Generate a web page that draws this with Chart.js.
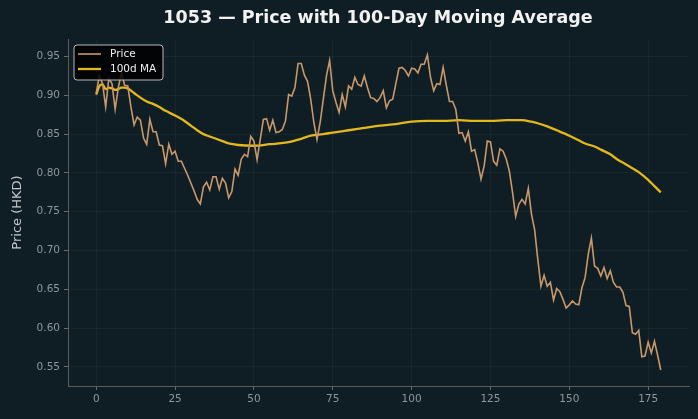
<!DOCTYPE html>
<html><head><meta charset="utf-8">
<script src="https://cdn.jsdelivr.net/npm/chart.js@4"></script>
<style>html,body{margin:0;padding:0;background:#0f1e24;}#wrap{width:698px;height:419px;}</style>
</head><body><div id="wrap"><canvas id="c" width="698" height="419"></canvas></div>
<script>
const titleText = "1053 — Price with 100-Day Moving Average";
const yTitle = "Price (HKD)";
const seriesNames = ["Price", "100d MA"];
const xTicks = [0, 25, 50, 75, 100, 125, 150, 175];
const yTicks = [0.55, 0.60, 0.65, 0.70, 0.75, 0.80, 0.85, 0.90, 0.95];

const price = [
0.903,0.925,0.915,0.885,0.922,0.915,0.882,0.910,0.929,0.913,
0.912,0.885,0.862,0.872,0.868,0.845,0.837,0.869,0.853,0.853,
0.836,0.835,0.812,0.837,0.824,0.828,0.815,0.815,0.806,0.797,
0.787,0.777,0.766,0.760,0.782,0.788,0.778,0.795,0.795,0.779,
0.793,0.787,0.768,0.776,0.805,0.797,0.818,0.824,0.821,0.847,
0.841,0.817,0.843,0.869,0.870,0.855,0.868,0.852,0.853,0.856,
0.867,0.901,0.899,0.910,0.941,0.941,0.926,0.918,0.895,0.865,
0.843,0.865,0.895,0.925,0.945,0.906,0.891,0.878,0.901,0.885,
0.912,0.908,0.923,0.914,0.912,0.925,0.910,0.897,0.896,0.892,
0.897,0.906,0.884,0.893,0.895,0.915,0.935,0.936,0.932,0.925,
0.935,0.934,0.929,0.940,0.940,0.952,0.923,0.906,0.915,0.914,
0.936,0.913,0.892,0.892,0.882,0.851,0.852,0.841,0.853,0.828,
0.830,0.813,0.792,0.809,0.841,0.840,0.815,0.810,0.831,0.828,
0.818,0.802,0.775,0.744,0.760,0.766,0.760,0.780,0.747,0.727,
0.689,0.654,0.668,0.654,0.659,0.636,0.651,0.647,0.637,0.626,
0.630,0.635,0.631,0.630,0.652,0.665,0.695,0.716,0.680,0.677,
0.667,0.678,0.664,0.674,0.659,0.653,0.653,0.646,0.629,0.628,
0.594,0.592,0.597,0.563,0.564,0.582,0.568,0.583,0.565,0.546
];
const days = price.map((_, i) => i);

const maDays = [0,1,2,3,4,5,6,7,8,9,10,12,14,16,18,20,22,25,28,30,32,34,36,38,40,42,45,50,55,60,65,68,72,75,80,85,90,95,100,105,110,115,120,125,130,135,138,140,143,146,150,153,155,158,160,163,165,168,170,172,175,177,179];
const maValues = [0.901,0.912,0.914,0.908,0.910,0.909,0.907,0.908,0.910,0.910,0.909,0.903,0.897,0.892,0.889,0.885,0.880,0.874,0.867,0.861,0.855,0.850,0.847,0.844,0.841,0.838,0.836,0.835,0.837,0.839,0.844,0.848,0.850,0.852,0.855,0.858,0.861,0.863,0.866,0.867,0.867,0.868,0.867,0.867,0.868,0.868,0.866,0.864,0.860,0.855,0.848,0.842,0.838,0.834,0.830,0.824,0.818,0.811,0.806,0.801,0.791,0.783,0.775];

const BG = '#0f1e24';
const PRICE_COLOR = '#c9986a';
const MA_COLOR = '#e3b81c';

const bgPlugin = {
  id: 'bg',
  beforeDraw(chart) {
    const ctx = chart.ctx;
    ctx.save();
    ctx.fillStyle = BG;
    ctx.fillRect(0, 0, chart.width, chart.height);
    ctx.restore();
  },
  afterDraw(chart) {
    const ctx = chart.ctx;
    ctx.save();
    ctx.fillStyle = '#f2f2f2';
    ctx.font = 'bold 17.5px "DejaVu Sans"';
    ctx.textAlign = 'center';
    ctx.textBaseline = 'middle';
    ctx.fillText(titleText, 378, 18);
    const x0 = 74, y0 = 45, w = 89, h = 35, r = 3;
    ctx.beginPath();
    ctx.moveTo(x0 + r, y0);
    ctx.arcTo(x0 + w, y0, x0 + w, y0 + h, r);
    ctx.arcTo(x0 + w, y0 + h, x0, y0 + h, r);
    ctx.arcTo(x0, y0 + h, x0, y0, r);
    ctx.arcTo(x0, y0, x0 + w, y0, r);
    ctx.closePath();
    ctx.fillStyle = 'rgba(0,0,0,0.85)';
    ctx.fill();
    ctx.strokeStyle = '#b8b8b8';
    ctx.lineWidth = 1;
    ctx.stroke();
    const items = [[PRICE_COLOR, 1.6, 54, seriesNames[0]], [MA_COLOR, 2.3, 69, seriesNames[1]]];
    ctx.font = '10.5px "DejaVu Sans"';
    ctx.textAlign = 'left';
    for (const [col, lw, yy, label] of items) {
      ctx.beginPath();
      ctx.moveTo(78, yy);
      ctx.lineTo(101, yy);
      ctx.strokeStyle = col;
      ctx.lineWidth = lw;
      ctx.stroke();
      ctx.fillStyle = '#eeeeee';
      ctx.fillText(label, 110, yy + 0.5);
    }
    ctx.restore();
  }
};

new Chart(document.getElementById('c'), {
  type: 'line',
  data: {
    datasets: [
      {
        label: seriesNames[0],
        data: days.map((d, i) => ({ x: d, y: price[i] })),
        borderColor: PRICE_COLOR,
        borderWidth: 1.6,
        pointRadius: 0,
        tension: 0,
        fill: false
      },
      {
        label: seriesNames[1],
        data: maDays.map((d, i) => ({ x: d, y: maValues[i] })),
        borderColor: MA_COLOR,
        borderWidth: 2.3,
        pointRadius: 0,
        cubicInterpolationMode: 'monotone',
        fill: false
      }
    ]
  },
  options: {
    responsive: false,
    animation: false,
    devicePixelRatio: 1,
    layout: { padding: { left: 10, right: 9, top: 39, bottom: 0 } },
    plugins: {
      legend: { display: false },
      title: { display: false },
      tooltip: { enabled: false }
    },
    scales: {
      x: {
        type: 'linear',
        min: -8.95,
        max: 187.95,
        afterBuildTicks: s => { s.ticks = xTicks.map(v => ({ value: v })); },
        afterFit: s => { s.height = 33; },
        ticks: {
          color: '#8e979b',
          font: { family: 'DejaVu Sans', size: 10.5 },
          padding: 3,
          maxRotation: 0,
          callback: v => String(v)
        },
        grid: {
          color: 'rgba(255,255,255,0.045)',
          tickColor: '#6a6a6a',
          tickLength: 4,
          drawTicks: true
        },
        border: { color: '#5a5a5a', width: 1 }
      },
      y: {
        type: 'linear',
        min: 0.5254,
        max: 0.9726,
        afterBuildTicks: s => { s.ticks = yTicks.map(v => ({ value: v })); },
        afterFit: s => { s.width = 58; },
        ticks: {
          color: '#8e979b',
          font: { family: 'DejaVu Sans', size: 10.5 },
          padding: 4,
          callback: v => v.toFixed(2)
        },
        grid: {
          color: 'rgba(255,255,255,0.045)',
          tickColor: '#6a6a6a',
          tickLength: 4,
          drawTicks: true
        },
        border: { color: '#5a5a5a', width: 1 },
        title: {
          display: true,
          text: yTitle,
          color: '#c4c8ca',
          font: { family: 'DejaVu Sans', size: 13 },
          padding: { top: 0, bottom: 4 }
        }
      }
    }
  },
  plugins: [bgPlugin]
});
</script>
</body></html>
